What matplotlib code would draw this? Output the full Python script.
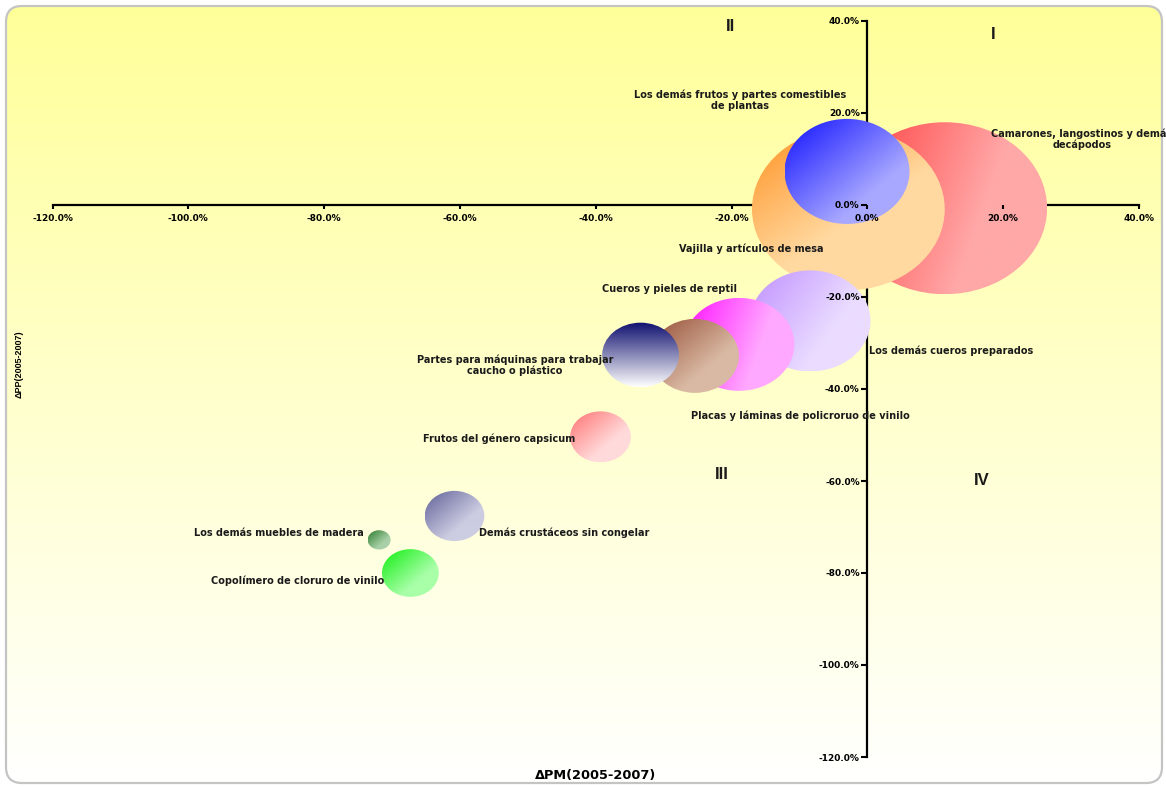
import numpy as np
import matplotlib
matplotlib.use("Agg")
import matplotlib.pyplot as plt
from matplotlib.patches import Ellipse, FancyBboxPatch
from matplotlib.ticker import FuncFormatter, MultipleLocator
from matplotlib.colors import to_rgb

plt.rcParams['font.family'] = ['DejaVu Sans']
plt.rcParams['axes.unicode_minus'] = False

# Datos: variacion de precios de mercado (x) y de participacion (y), en %
productos = ["Camarones, langostinos y demás\ndecápodos",
             "Vajilla y artículos de mesa",
             "Los demás frutos y partes comestibles\nde plantas",
             "Los demás cueros preparados",
             "Placas y láminas de policroruo de vinilo",
             "Cueros y pieles de reptil",
             "Partes para máquinas para trabajar\ncaucho o plástico",
             "Frutos del género capsicum",
             "Demás crustáceos sin congelar",
             "Los demás muebles de madera",
             "Copolímero de cloruro de vinilo"]
delta_pm = [11.4, -2.8, -3.0, -8.4, -18.9, -25.4, -33.4, -39.3, -60.8, -71.9, -67.3]
delta_pp = [-0.7, -0.9, 7.3, -25.2, -30.3, -32.8, -32.6, -50.4, -67.6, -72.8, -80.0]
tamano = [100, 88.7, 37.3, 34.5, 29.2, 18.5, 14.1, 8.8, 8.5, 1.26, 7.7]

# estilo de cada burbuja: color inicial, color final, direccion del degradado
color_ini = ["#FF3B3B", "#FF9020", "#1010FF", "#C090FF", "#FF10FF", "#985038",
             "#101070", "#FF7070", "#606098", "#2E7D2E", "#10EE10"]
color_fin = ["#FFA8A8", "#FFD9A0", "#A8A8FF", "#EADCFF", "#FFA8FF", "#D9B9A3",
             "#FFFFFF", "#FFDADA", "#CCCCE2", "#A8D0A8", "#A8FFA8"]
direccion = [(1, 0.3), (0.8, 1), (1, 1), (1, 0.6), (1, 0.3), (1, 1),
             (0, 1), (1, 1), (1, 1), (1, 1), (1, 1)]
rampa = [0.65, 0.55, 0.7, 0.65, 0.65, 0.65, 1.0, 0.65, 0.65, 0.65, 0.65]
# desplazamiento de las etiquetas respecto al centro (pixeles)
etiqueta_dx = [137, -97, -107, 141, 61.5, -25.5, -125.5, -101.5, 109.5, -100, -113]
etiqueta_dy = [69, -40, 71.5, -30, -71.5, 67, -10, -2, -17, 7, -8]

cuadrantes = ["I", "II", "III", "IV"]
cuad_x = [18.5, -20.2, -21.5, 16.9]
cuad_y = [37.0, 38.9, -58.5, -59.8]

W, H = 1166, 786
fig = plt.figure(figsize=(W / 100, H / 100), dpi=100)
fig.patch.set_facecolor("white")

# fondo con degradado amarillo -> blanco y borde redondeado
bg = fig.add_axes([0, 0, 1, 1])
bg.set_axis_off()
bg.set_xlim(0, W)
bg.set_ylim(H, 0)
g = np.linspace(0, 1, 256)[:, None, None]
top = np.array(to_rgb("#FFFF99"))
bot = np.array(to_rgb("#FFFFFF"))
fondo = top + (bot - top) * g
fondo = np.repeat(fondo, 2, axis=1)
marco = FancyBboxPatch((6, 6), W - 10, H - 9, boxstyle="round,pad=0,rounding_size=16",
                       facecolor="none", edgecolor="#C4C4C4", linewidth=1.6)
bg.add_patch(marco)
im = bg.imshow(fondo, extent=[0, W, H, 0], aspect="auto", interpolation="bilinear", zorder=0)
im.set_clip_path(marco)

ax = fig.add_axes([52.5 / W, (H - 757) / H, (1139 - 52.5) / W, (757 - 21) / H])
ax.patch.set_alpha(0)
ax.set_xlim(-120, 40)
ax.set_ylim(-120, 40)

for s in ["top", "right"]:
    ax.spines[s].set_visible(False)
ax.spines["left"].set_position(("data", 0))
ax.spines["bottom"].set_position(("data", 0))
for s in ["left", "bottom"]:
    ax.spines[s].set_linewidth(1.6)
    ax.spines[s].set_zorder(0.5)
ax.xaxis.set_major_locator(MultipleLocator(20))
ax.yaxis.set_major_locator(MultipleLocator(20))
fmt = FuncFormatter(lambda v, p: f"{v:.1f}%")
ax.xaxis.set_major_formatter(fmt)
ax.yaxis.set_major_formatter(fmt)
ax.tick_params(axis="x", direction="out", length=3, width=1.5, pad=3.5, labelsize=6.5)
ax.tick_params(axis="y", direction="out", length=4, width=1.5, pad=1.5, labelsize=6.5)
for lab in ax.get_xticklabels() + ax.get_yticklabels():
    lab.set_fontweight("bold")
ax.xaxis.set_zorder(30)
ax.yaxis.set_zorder(30)

# escala pixeles por unidad de dato
p0 = ax.transData.transform((0, 0))
p1 = ax.transData.transform((1, 1))
sx, sy = p1[0] - p0[0], p1[1] - p0[1]

orden = np.argsort(tamano)[::-1]
n = 200
u, v = np.meshgrid(np.linspace(0, 1, n), np.linspace(0, 1, n))
for k, i in enumerate(orden):
    alto_px = 172 * np.sqrt(tamano[i] / 100)
    ancho_px = 1.19 * alto_px
    w = ancho_px / sx
    h = alto_px / sy
    x, y = delta_pm[i], delta_pp[i]
    ell = Ellipse((x, y), w, h, facecolor="none", edgecolor="none")
    ax.add_patch(ell)
    dx, dy = direccion[i]
    t = (u * dx + v * dy) / (dx + dy)
    t = np.clip(t / rampa[i], 0, 1)[:, :, None]
    c0 = np.array(to_rgb(color_ini[i]))
    c1 = np.array(to_rgb(color_fin[i]))
    img = c0 + (c1 - c0) * t
    bi = ax.imshow(img, extent=[x - w / 2, x + w / 2, y - h / 2, y + h / 2],
                   origin="upper", aspect="auto", interpolation="bilinear", zorder=1 + k)
    bi.set_clip_path(ell)

for i, nombre in enumerate(productos):
    ax.annotate(nombre, (delta_pm[i], delta_pp[i]),
                xytext=(etiqueta_dx[i] * 0.72, etiqueta_dy[i] * 0.72),
                textcoords="offset points", ha="center", va="center",
                fontsize=7, fontweight="bold", color="#1A1A1A", zorder=40,
                linespacing=1.1, annotation_clip=False)

for c, x, y in zip(cuadrantes, cuad_x, cuad_y):
    ax.text(x, y, c, ha="center", va="center", fontsize=12, fontweight="bold",
            color="#1A1A1A", zorder=40, family=["Liberation Sans", "DejaVu Sans"])

ax.set_xlim(-120, 40)
ax.set_ylim(-120, 40)

fig.text(596 / W, 1 - 776 / H, "ΔPM(2005-2007)", ha="center", va="center",
         fontsize=9.3, fontweight="bold")
fig.text(19.5 / W, 1 - 364 / H, "ΔPP(2005-2007)", ha="center", va="center",
         rotation=90, fontsize=6.5, fontweight="bold",
         family=["Liberation Sans", "DejaVu Sans"])

fig.savefig("out.png", dpi=100)
